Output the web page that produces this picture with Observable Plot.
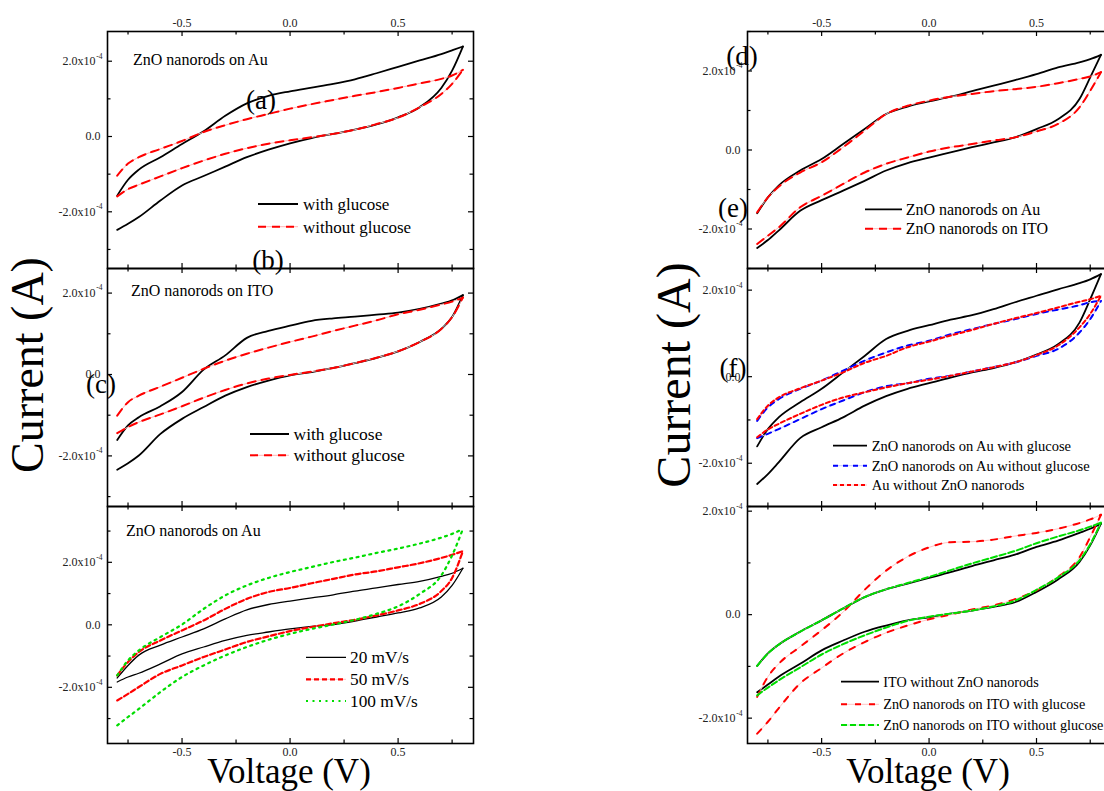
<!DOCTYPE html>
<html><head><meta charset="utf-8">
<script src="https://cdn.jsdelivr.net/npm/d3@7"></script>
<script src="https://cdn.jsdelivr.net/npm/@observablehq/plot@0.6"></script>
<style>
html,body{margin:0;padding:0;background:#fff;overflow:hidden}
#wrap{position:relative;width:1104px;height:791px;overflow:hidden;background:#fff;font-family:"Liberation Serif","Times New Roman",serif}
#wrap svg{position:absolute}
</style></head><body><div id="wrap"></div>
<script>
// Potential grid (V) shared by every branch
const V = [-0.8,-0.75,-0.7,-0.6,-0.5,-0.4,-0.3,-0.2,-0.1,0,0.1,0.2,0.3,0.4,0.5,0.6,0.7,0.75,0.8];
// Currents in units of 1e-4 A. Fwd = upper (anodic) branch, Rev = lower (return) branch.
// (a) ZnO nanorods on Au
const aGlucoseFwd   = [-1.57,-1.15,-0.88,-0.55,-0.20,0.14,0.55,0.88,1.08,1.20,1.30,1.40,1.52,1.68,1.85,2.02,2.19,2.29,2.39];
const aGlucoseRev   = [-2.48,-2.32,-2.14,-1.70,-1.30,-1.05,-0.80,-0.55,-0.35,-0.18,-0.04,0.07,0.18,0.32,0.51,0.78,1.29,1.75,2.39];
const aNoGlucoseFwd = [-1.04,-0.72,-0.55,-0.33,-0.12,0.12,0.30,0.46,0.60,0.74,0.86,0.97,1.08,1.18,1.29,1.41,1.53,1.62,1.77];
const aNoGlucoseRev = [-1.59,-1.40,-1.28,-1.06,-0.84,-0.64,-0.46,-0.31,-0.19,-0.10,-0.02,0.07,0.18,0.33,0.50,0.78,1.13,1.40,1.77];
// (b) ZnO nanorods on ITO
const bGlucoseFwd   = [-1.61,-1.25,-1.05,-0.78,-0.43,0.12,0.47,0.90,1.07,1.20,1.32,1.38,1.42,1.47,1.52,1.61,1.74,1.82,1.95];
const bGlucoseRev   = [-2.34,-2.18,-1.99,-1.46,-1.09,-0.80,-0.52,-0.31,-0.15,-0.02,0.06,0.16,0.28,0.41,0.57,0.80,1.12,1.41,1.95];
const bNoGlucoseFwd = [-1.01,-0.68,-0.52,-0.30,-0.08,0.14,0.34,0.51,0.66,0.80,0.93,1.07,1.20,1.33,1.48,1.59,1.72,1.79,1.89];
const bNoGlucoseRev = [-1.44,-1.29,-1.17,-0.98,-0.78,-0.57,-0.38,-0.22,-0.10,-0.01,0.07,0.16,0.28,0.41,0.57,0.80,1.12,1.41,1.89];
// (c) ZnO nanorods on Au, scan rates
const c20Fwd  = [-1.70,-1.30,-0.97,-0.65,-0.39,-0.13,0.19,0.48,0.65,0.76,0.86,0.96,1.08,1.18,1.29,1.39,1.55,1.65,1.81];
const c20Rev  = [-1.83,-1.67,-1.55,-1.25,-0.93,-0.71,-0.50,-0.34,-0.23,-0.13,-0.05,0.01,0.12,0.25,0.38,0.54,0.89,1.26,1.81];
const c50Fwd  = [-1.62,-1.19,-0.87,-0.50,-0.18,0.14,0.51,0.83,1.05,1.18,1.33,1.47,1.61,1.71,1.84,1.97,2.14,2.24,2.36];
const c50Rev  = [-2.42,-2.21,-1.99,-1.57,-1.30,-1.03,-0.79,-0.55,-0.37,-0.20,-0.07,0.05,0.16,0.30,0.46,0.67,1.08,1.50,2.36];
const c100Fwd = [-1.62,-1.14,-0.82,-0.39,0.01,0.51,0.94,1.26,1.50,1.69,1.85,2.01,2.15,2.30,2.44,2.60,2.79,2.91,3.07];
const c100Rev = [-3.22,-2.95,-2.69,-2.15,-1.67,-1.30,-0.98,-0.71,-0.48,-0.29,-0.13,0.01,0.16,0.35,0.59,0.99,1.58,2.22,3.07];
// (d) Au vs ITO
const dAuFwd  = [-1.60,-1.20,-0.90,-0.52,-0.23,0.15,0.53,0.91,1.10,1.23,1.35,1.49,1.63,1.77,1.92,2.09,2.22,2.30,2.41];
const dAuRev  = [-2.48,-2.28,-2.04,-1.54,-1.27,-1.03,-0.78,-0.52,-0.33,-0.19,-0.06,0.07,0.19,0.32,0.53,0.78,1.29,1.84,2.41];
const dItoFwd = [-1.58,-1.20,-0.93,-0.57,-0.31,0.07,0.49,0.91,1.12,1.25,1.35,1.42,1.49,1.54,1.60,1.69,1.80,1.86,1.97];
const dItoRev = [-2.38,-2.17,-1.96,-1.45,-1.16,-0.86,-0.57,-0.35,-0.19,-0.04,0.07,0.15,0.24,0.32,0.47,0.66,1.08,1.50,1.97];
// (e) Au electrodes
const eGlucoseFwd   = [-1.61,-1.21,-0.94,-0.59,-0.28,0.10,0.48,0.87,1.06,1.19,1.32,1.42,1.56,1.72,1.87,2.02,2.16,2.25,2.37];
const eGlucoseRev   = [-2.48,-2.25,-1.98,-1.42,-1.17,-0.94,-0.67,-0.45,-0.28,-0.15,-0.02,0.10,0.20,0.33,0.51,0.75,1.25,1.79,2.37];
const eNoGlucoseFwd = [-1.02,-0.71,-0.52,-0.28,-0.09,0.14,0.37,0.56,0.72,0.83,0.98,1.10,1.22,1.33,1.45,1.55,1.65,1.72,1.75];
const eNoGlucoseRev = [-1.42,-1.32,-1.21,-0.98,-0.75,-0.55,-0.36,-0.22,-0.15,-0.05,0.02,0.12,0.22,0.33,0.48,0.64,1.02,1.33,1.75];
const eBareAuFwd    = [-0.98,-0.67,-0.48,-0.27,-0.09,0.10,0.32,0.48,0.68,0.81,0.95,1.08,1.22,1.35,1.47,1.60,1.73,1.79,1.87];
const eBareAuRev    = [-1.40,-1.22,-1.09,-0.86,-0.65,-0.48,-0.36,-0.25,-0.15,-0.07,0.02,0.12,0.22,0.33,0.50,0.72,1.14,1.45,1.87];
// (f) ITO electrodes
const fBareItoFwd   = [-0.99,-0.75,-0.58,-0.33,-0.11,0.12,0.34,0.49,0.60,0.71,0.82,0.94,1.05,1.16,1.31,1.43,1.58,1.66,1.76];
const fBareItoRev   = [-1.50,-1.35,-1.20,-0.95,-0.69,-0.50,-0.33,-0.21,-0.11,-0.05,0.02,0.08,0.15,0.24,0.44,0.68,1.02,1.34,1.76];
const fGlucoseFwd   = [-1.59,-1.20,-0.95,-0.62,-0.30,0.05,0.48,0.85,1.12,1.30,1.40,1.41,1.45,1.52,1.58,1.66,1.77,1.84,1.93];
const fGlucoseRev   = [-2.30,-2.07,-1.81,-1.33,-1.03,-0.75,-0.53,-0.35,-0.21,-0.09,0.00,0.10,0.18,0.30,0.47,0.73,1.11,1.50,1.93];
const fNoGlucoseFwd = [-0.99,-0.75,-0.58,-0.33,-0.11,0.12,0.34,0.49,0.61,0.73,0.86,0.99,1.11,1.23,1.38,1.51,1.63,1.70,1.78];
const fNoGlucoseRev = [-1.56,-1.41,-1.27,-1.02,-0.77,-0.57,-0.40,-0.25,-0.12,-0.04,0.02,0.08,0.16,0.27,0.48,0.72,1.05,1.36,1.78];

// Tick values
const xTicks = [-0.5, 0, 0.5];
const xMinorTicks = [-0.75, -0.25, 0.25, 0.75];
const yTicks = [-2, 0, 2];           // ×1e-4 A
const yMinorTicks = [-3, -1, 1, 3];

// Legend / label texts
const panelTitles = {a:"ZnO nanorods on Au", b:"ZnO nanorods on ITO", c:"ZnO nanorods on Au"};
const legA = ["with glucose","without glucose"];
const legC = ["20 mV/s","50 mV/s","100 mV/s"];
const legD = ["ZnO nanorods on Au","ZnO nanorods on ITO"];
const legE = ["ZnO nanorods on Au with glucose","ZnO nanorods on Au without glucose","Au without ZnO nanorods"];
const legF = ["ITO without ZnO nanorods","ZnO nanorods on ITO with glucose","ZnO nanorods on ITO without glucose"];

const styles = {
  black:   {stroke:"#000", width:1.8},
  thin:    {stroke:"#000", width:1.3},
  redDD:   {stroke:"#ff0000", width:2, dash:"8,6", under:"#ffb4b4"},
  red50:   {stroke:"#ff0000", width:2.2, dash:"5,3", under:"#ffc0c0"},
  green:   {stroke:"#00dd00", width:2.2, dash:"2,4.5"},
  blue:    {stroke:"#0000ff", width:2, dash:"5,5", under:"#c8c8ff"},
  redShort:{stroke:"#ff0000", width:2, dash:"4,3", under:"#ffc0c0"},
  redF:    {stroke:"#ff0000", width:2, dash:"6,8", under:"#ffc4c4"},
  greenF:  {stroke:"#00dd00", width:2, dash:"6,3", under:"#b8f0b8"}
};

const panels = [
  {left:0,   top:0,   mt:31, mb:2,  fh:237, fw:366, y:[-3.506,2.789], xLab:"top",
   series:[[aGlucoseFwd,aGlucoseRev,"black"],[aNoGlucoseFwd,aNoGlucoseRev,"redDD"]]},
  {left:0,   top:266, mt:2,  mb:2,  fh:238, fw:366, y:[-3.243,2.604], xLab:null,
   series:[[bGlucoseFwd,bGlucoseRev,"black"],[bNoGlucoseFwd,bNoGlucoseRev,"redDD"]]},
  {left:0,   top:504, mt:2,  mb:40, fh:237, fw:366, y:[-3.798,3.786], xLab:"bottom",
   series:[[c20Fwd,c20Rev,"thin"],[c50Fwd,c50Rev,"red50"],[c100Fwd,c100Rev,"green"]]},
  {left:640, top:0,   mt:31, mb:2,  fh:237, fw:364, y:[-3.0,3.0], xLab:"top",
   series:[[dAuFwd,dAuRev,"black"],[dItoFwd,dItoRev,"redDD"]]},
  {left:640, top:266, mt:2,  mb:2,  fh:238, fw:364, y:[-3.0,2.5], xLab:null,
   series:[[eGlucoseFwd,eGlucoseRev,"black"],[eNoGlucoseFwd,eNoGlucoseRev,"blue"],[eBareAuFwd,eBareAuRev,"redShort"]]},
  {left:640, top:504, mt:2,  mb:40, fh:237, fw:364, y:[-2.49,2.09], xLab:"bottom",
   series:[[fBareItoFwd,fBareItoRev,"black"],[fGlucoseFwd,fGlucoseRev,"redF"],[fNoGlucoseFwd,fNoGlucoseRev,"greenF"]]}
];

const wrap = document.getElementById("wrap");
const ML = 107, MR = 12;

for (const p of panels) {
  const W = ML + p.fw + MR, H = p.mt + p.fh + p.mb;
  const inY = v => v >= p.y[0] && v <= p.y[1];
  const marks = [];
  for (const [fwd, rev, sk] of p.series) {
    const st = styles[sk];
    const pts = [...V.map((v,i)=>({V:v, I:fwd[i], b:0})), ...V.map((v,i)=>({V:v, I:rev[i], b:1}))];
    if (st.under) marks.push(Plot.line(pts, {x:"V", y:"I", z:"b", curve:"monotone-x", stroke:st.under, strokeWidth:1}));
    marks.push(Plot.line(pts, {x:"V", y:"I", z:"b", curve:"monotone-x", stroke:st.stroke, strokeWidth:st.width, strokeDasharray:st.dash}));
  }
  const yMaj = yTicks.filter(inY), yMin = yMinorTicks.filter(inY);
  // inward ticks on all four sides
  for (const [arr, len] of [[xTicks,5],[xMinorTicks,3.5]]) {
    marks.push(Plot.tickX(arr, {x:d=>d, insetTop:p.fh-len, stroke:"#000", strokeWidth:1.2}));
    marks.push(Plot.tickX(arr, {x:d=>d, insetBottom:p.fh-len, stroke:"#000", strokeWidth:1.2}));
  }
  for (const [arr, len] of [[yMaj,5],[yMin,3.5]]) {
    marks.push(Plot.tickY(arr, {y:d=>d, insetRight:p.fw-len, stroke:"#000", strokeWidth:1.2}));
    marks.push(Plot.tickY(arr, {y:d=>d, insetLeft:p.fw-len, stroke:"#000", strokeWidth:1.2}));
  }
  marks.push(Plot.frame({stroke:"#000", strokeWidth:1.6}));
  // y tick labels "2.0x10^-4" and "0.0"
  const yNonZero = yMaj.filter(d => d !== 0), yZero = yMaj.filter(d => d === 0);
  marks.push(Plot.text(yNonZero, {y:d=>d, frameAnchor:"left", textAnchor:"end", dx:-12,
    text: d => (d < 0 ? "-" : "") + Math.abs(d).toFixed(1) + "x10", fontSize:12, fill:"#222"}));
  marks.push(Plot.text(yNonZero, {y:d=>d, frameAnchor:"left", textAnchor:"end", dx:-5, dy:-5,
    text:()=>"-4", fontSize:7.5, fill:"#222"}));
  marks.push(Plot.text(yZero, {y:d=>d, frameAnchor:"left", textAnchor:"end", dx:-7,
    text: d => d.toFixed(1), fontSize:12, fill:"#222"}));
  if (p.xLab) {
    marks.push(Plot.text(xTicks, {x:d=>d, frameAnchor:p.xLab, dy: p.xLab === "top" ? -13 : 12.5,
      text: d => d.toFixed(1), fontSize:12, fill:"#222"}));
  }
  const svg = Plot.plot({
    width:W, height:H, marginLeft:ML, marginRight:MR, marginTop:p.mt, marginBottom:p.mb,
    x:{domain:[-0.845,0.849], axis:null},
    y:{domain:p.y, axis:null},
    style:{background:"transparent", overflow:"visible", fontFamily:"'Liberation Serif', serif"},
    marks
  });
  svg.style.left = p.left + "px";
  svg.style.top = p.top + "px";
  wrap.appendChild(svg);
}

// Overlay: axis titles, panel titles, letters, legends
const ov = d3.create("svg").attr("width",1104).attr("height",791)
  .style("left","0px").style("top","0px").style("font-family","'Liberation Serif', serif");
function txt(x, y, s, size, anchor="start", rot=0) {
  const t = ov.append("text").attr("font-size", size).attr("text-anchor", anchor).attr("fill","#000").text(s);
  t.attr("transform", `translate(${x},${y})` + (rot ? ` rotate(${rot})` : ""));
  return t;
}
txt(43, 365, "Current (A)", 46, "middle", -90);
txt(690, 375, "Current (A)", 48, "middle", -90);
txt(289, 783, "Voltage (V)", 35, "middle");
txt(928, 783, "Voltage (V)", 35, "middle");

txt(133, 65, panelTitles.a, 16);
txt(131, 296, panelTitles.b, 16);
txt(126, 536, panelTitles.c, 16);

txt(261, 109, "(a)", 27, "middle");
txt(268, 269, "(b)", 27, "middle");
txt(101, 393, "(c)", 27, "middle");
txt(742, 65, "(d)", 27, "middle");
txt(733, 217, "(e)", 27, "middle");
txt(733, 377, "(f)", 27, "middle");

function legend(x1, x2, tx, rows, labels, keys, size) {
  labels.forEach((lab, i) => {
    const st = styles[keys[i]], y = rows[i];
    if (st.under) ov.append("line").attr("x1",x1).attr("x2",x2).attr("y1",y).attr("y2",y).attr("stroke",st.under).attr("stroke-width",1);
    ov.append("line").attr("x1",x1).attr("x2",x2).attr("y1",y).attr("y2",y)
      .attr("stroke",st.stroke).attr("stroke-width",st.width).attr("stroke-dasharray",st.dash || null);
    ov.append("text").attr("x",tx).attr("y",y).attr("dy","0.35em").attr("font-size",size).text(lab);
  });
}
legend(258, 298, 303, [204, 226.7], legA, ["black","redDD"], 17);
legend(250, 289, 293.5, [434, 455.3], legA, ["black","redDD"], 17.5);
legend(306, 346, 350, [657.3, 679.3, 701], legC, ["thin","red50","green"], 17.3);
legend(865, 902, 905.7, [209.3, 228.7], legD, ["black","redDD"], 16);
legend(833, 867, 871.7, [445.7, 465.7, 485], legE, ["black","blue","redShort"], 14.5);
legend(841, 879, 883.3, [681.7, 704.3, 725], legF, ["black","redF","greenF"], 14.2);

wrap.appendChild(ov.node());
</script>
</body></html>
